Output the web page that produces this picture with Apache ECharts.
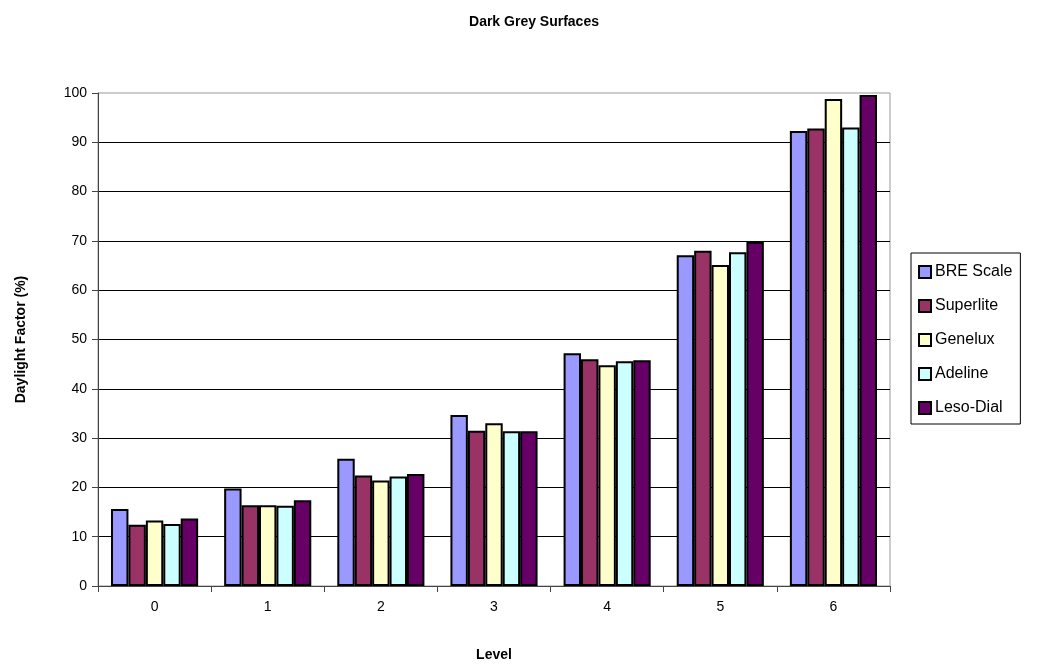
<!DOCTYPE html>
<html>
<head>
<meta charset="utf-8">
<script src="https://cdn.jsdelivr.net/npm/echarts@6/dist/echarts.min.js"></script>
<style>
  html, body { margin: 0; padding: 0; background: #fff; }
  #chart { width: 1055px; height: 668px; }
</style>
</head>
<body>
<div id="chart"></div>
<script>
// Daylight factor per level, measured with five methods
const levels = ['0', '1', '2', '3', '4', '5', '6'];
const breScale = [15.6, 19.8, 25.8, 34.7, 47.2, 67.1, 92.3];
const superlite = [12.4, 16.4, 22.4, 31.5, 46.0, 68.0, 92.8];
const genelux = [13.3, 16.4, 21.4, 33.0, 44.8, 65.1, 98.8];
const adeline = [12.6, 16.3, 22.2, 31.4, 45.6, 67.7, 93.0];
const lesoDial = [13.7, 17.4, 22.7, 31.4, 45.8, 69.8, 99.6];
const yTicks = [0, 10, 20, 30, 40, 50, 60, 70, 80, 90, 100];

const seriesDefs = [
  { name: 'BRE Scale', data: breScale, color: '#9999FF' },
  { name: 'Superlite', data: superlite, color: '#993366' },
  { name: 'Genelux', data: genelux, color: '#FFFFCC' },
  { name: 'Adeline', data: adeline, color: '#CCFFFF' },
  { name: 'Leso-Dial', data: lesoDial, color: '#660066' }
];

const font = 'Liberation Sans, Arial, sans-serif';
const chart = echarts.init(document.getElementById('chart'), null, { renderer: 'canvas' });

chart.setOption({
  animation: false,
  backgroundColor: '#ffffff',
  title: {
    text: 'Dark Grey Surfaces',
    left: 529,
    top: 10,
    textAlign: 'center',
    textStyle: { fontFamily: font, fontSize: 14, fontWeight: 'bold', color: '#000' }
  },
  legend: {
    orient: 'vertical',
    left: 911,
    top: 253,
    padding: [11, 8, 8, 7],
    itemGap: 18,
    itemWidth: 12,
    itemHeight: 12,
    borderColor: '#000',
    borderWidth: 1,
    backgroundColor: '#fff',
    textStyle: { fontFamily: font, fontSize: 16, color: '#000', padding: [0, 0, 0, -1] },
    data: seriesDefs.map(s => ({
      name: s.name,
      icon: 'rect',
      itemStyle: { color: s.color, borderColor: '#000', borderWidth: 2 }
    }))
  },
  grid: {
    left: 98,
    top: 93,
    width: 792,
    height: 493,
    show: true,
    borderColor: '#999',
    borderWidth: 1
  },
  xAxis: {
    type: 'category',
    data: levels,
    name: 'Level',
    nameLocation: 'middle',
    nameGap: 62,
    nameTextStyle: { fontFamily: font, fontSize: 14, fontWeight: 'bold', color: '#000' },
    axisLine: { lineStyle: { color: '#444', width: 1 } },
    axisTick: { show: true, length: 6, inside: false, lineStyle: { color: '#444' } },
    axisLabel: { fontFamily: font, fontSize: 14, color: '#000', margin: 14 },
    splitLine: { show: false }
  },
  yAxis: {
    type: 'value',
    min: yTicks[0],
    max: yTicks[yTicks.length - 1],
    interval: 10,
    name: 'Daylight Factor (%)',
    nameLocation: 'middle',
    nameGap: 70,
    nameRotate: 90,
    nameTextStyle: { fontFamily: font, fontSize: 14, fontWeight: 'bold', color: '#000' },
    axisLine: { show: true, lineStyle: { color: '#444', width: 1 } },
    axisTick: { show: true, length: 6, lineStyle: { color: '#444' } },
    axisLabel: { fontFamily: font, fontSize: 14, color: '#000', margin: 11 },
    splitLine: { show: true, showMaxLine: false, lineStyle: { color: '#000', width: 1 } }
  },
  series: seriesDefs.map(s => ({
    name: s.name,
    type: 'bar',
    data: s.data,
    barGap: '0%',
    barCategoryGap: '23%',
    itemStyle: { color: s.color, borderColor: '#000', borderWidth: 2 }
  }))
});
</script>
</body>
</html>
